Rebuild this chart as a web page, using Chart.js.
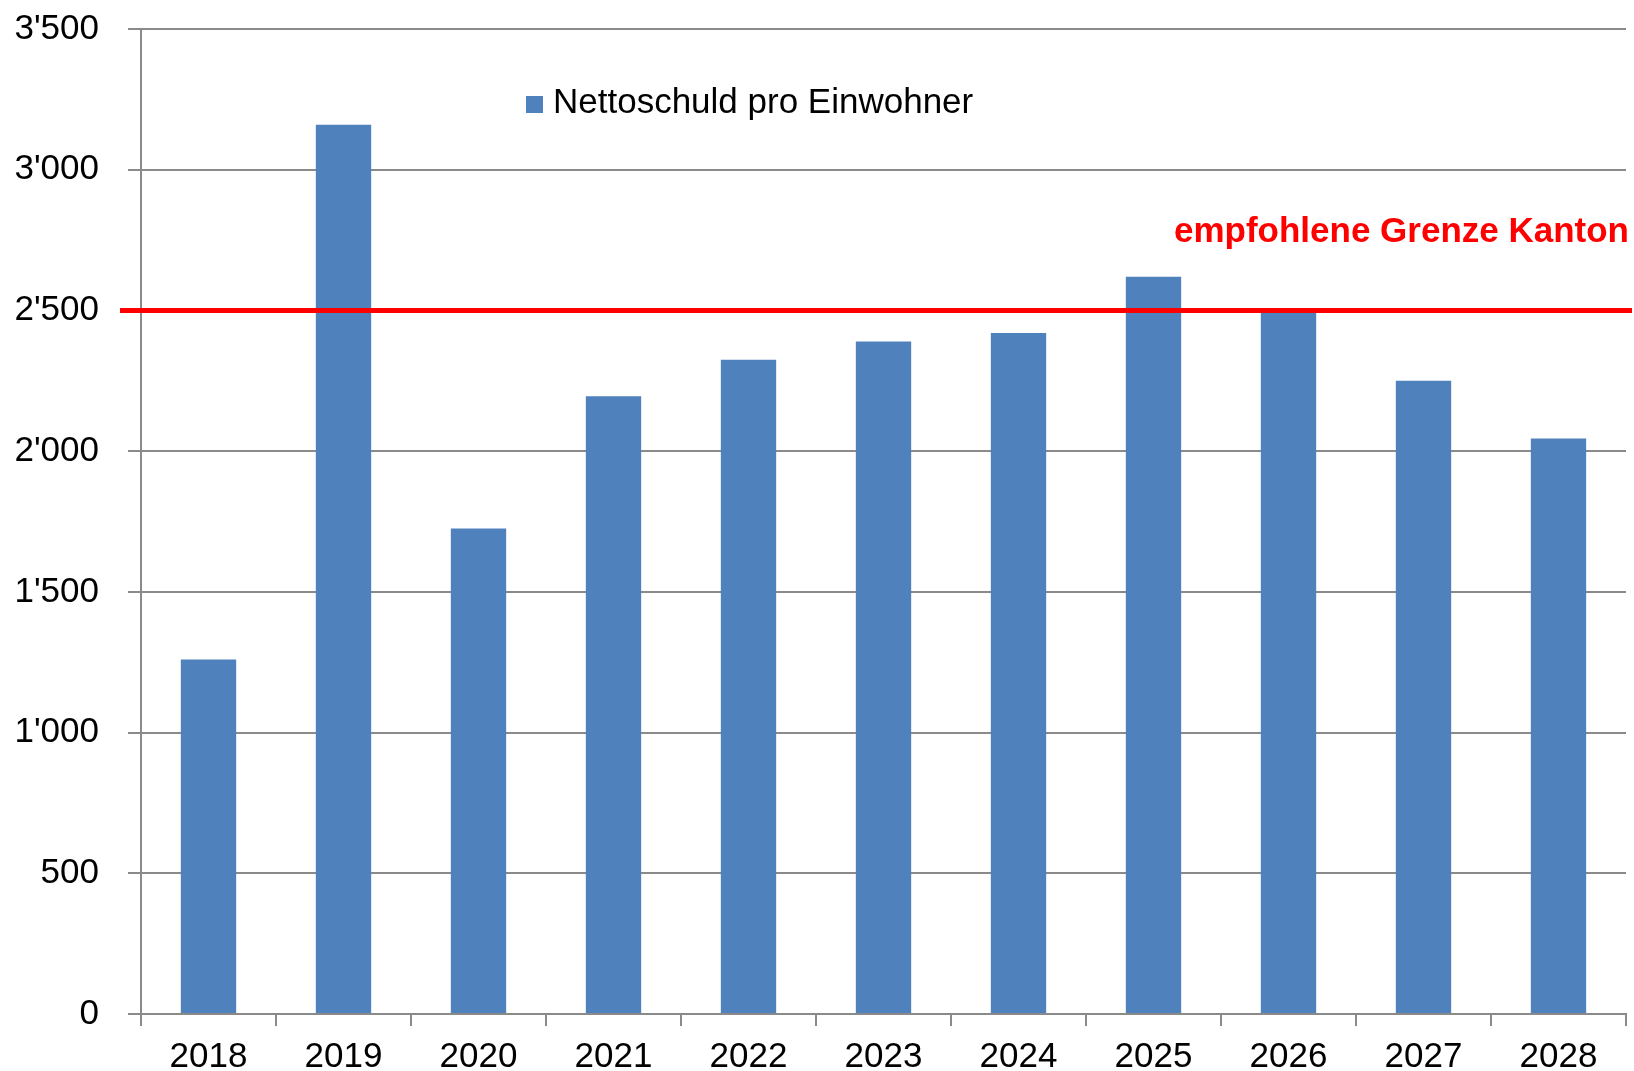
<!DOCTYPE html>
<html>
<head>
<meta charset="utf-8">
<script src="https://cdn.jsdelivr.net/npm/chart.js@4.4.1/dist/chart.umd.min.js"></script>
<style>
  html, body { margin: 0; padding: 0; background: #fff; }
</style>
</head>
<body>
<canvas id="debtChart" width="1634" height="1071"></canvas>
<script>
// ---------------- DATA ----------------
const years = ['2018', '2019', '2020', '2021', '2022', '2023', '2024', '2025', '2026', '2027', '2028'];
const debtPerInhabitant = [1260, 3160, 1725, 2195, 2325, 2390, 2420, 2620, 2495, 2250, 2045];
const yTicks = [0, 500, 1000, 1500, 2000, 2500, 3000, 3500];
const seriesLabel = 'Nettoschuld pro Einwohner';
const limitValue = 2500;
const limitLabel = 'empfohlene Grenze Kanton';

const FONT = '"Liberation Sans", Arial, sans-serif';
const BAR_BLUE = '#4F81BD';
const GRID_GREY = '#8a8a8a';

// 3500 -> 3'500
function swissFormat(v) {
  if (v < 1000) return String(v);
  return Math.floor(v / 1000) + "'" + String(v % 1000).padStart(3, '0');
}

// ---------------- LIMIT LINE + LEGEND ----------------
const limitPlugin = {
  id: 'limitLine',
  afterDatasetsDraw(chart) {
    const ctx = chart.ctx;
    const y = chart.scales.y.getPixelForValue(limitValue);
    ctx.save();
    ctx.strokeStyle = '#FF0000';
    ctx.lineWidth = 5;
    ctx.beginPath();
    ctx.moveTo(120, y);
    ctx.lineTo(chart.width - 2, y);
    ctx.stroke();

    ctx.fillStyle = '#FF0000';
    ctx.font = 'bold 35px ' + FONT;
    ctx.textAlign = 'right';
    ctx.textBaseline = 'alphabetic';
    ctx.fillText(limitLabel, chart.width - 5, y - 68);
    ctx.restore();
  }
};

const legendPlugin = {
  id: 'innerLegend',
  afterDraw(chart) {
    const ctx = chart.ctx;
    ctx.save();
    ctx.fillStyle = BAR_BLUE;
    ctx.fillRect(526, 96, 17, 17);
    ctx.fillStyle = '#000';
    ctx.font = '35px ' + FONT;
    ctx.textAlign = 'left';
    ctx.textBaseline = 'middle';
    ctx.fillText(chart.data.datasets[0].label, 553, 103);
    ctx.restore();
  }
};

// ---------------- CHART ----------------
new Chart(document.getElementById('debtChart'), {
  type: 'bar',
  data: {
    labels: years,
    datasets: [{
      label: seriesLabel,
      data: debtPerInhabitant,
      backgroundColor: BAR_BLUE,
      borderWidth: 0,
      categoryPercentage: 1,
      barPercentage: 0.41
    }]
  },
  options: {
    responsive: false,
    animation: false,
    layout: { padding: { top: 29, right: 8, left: 0, bottom: 0 } },
    plugins: {
      legend: { display: false },
      tooltip: { enabled: false }
    },
    scales: {
      x: {
        grid: {
          display: true,
          drawOnChartArea: false,
          offset: true,
          color: GRID_GREY,
          lineWidth: 2,
          tickLength: 12
        },
        border: { color: GRID_GREY, width: 2 },
        ticks: {
          color: '#000',
          font: { family: FONT, size: 35, lineHeight: 1 },
          padding: 14,
          maxRotation: 0
        },
        afterFit(scale) { scale.height = 57; }
      },
      y: {
        min: 0,
        max: 3500,
        afterBuildTicks(scale) {
          scale.ticks = yTicks.map(v => ({ value: v }));
        },
        grid: {
          color: GRID_GREY,
          lineWidth: 2,
          tickLength: 13
        },
        border: { color: GRID_GREY, width: 2 },
        ticks: {
          color: '#000',
          font: { family: FONT, size: 35 },
          padding: 29,
          callback: v => swissFormat(v)
        },
        afterFit(scale) {
          scale.width = 141;
          // label overflow is handled by layout padding
          scale.paddingTop = 0;
          scale.paddingBottom = 0;
        }
      }
    }
  },
  plugins: [limitPlugin, legendPlugin]
});
</script>
</body>
</html>
